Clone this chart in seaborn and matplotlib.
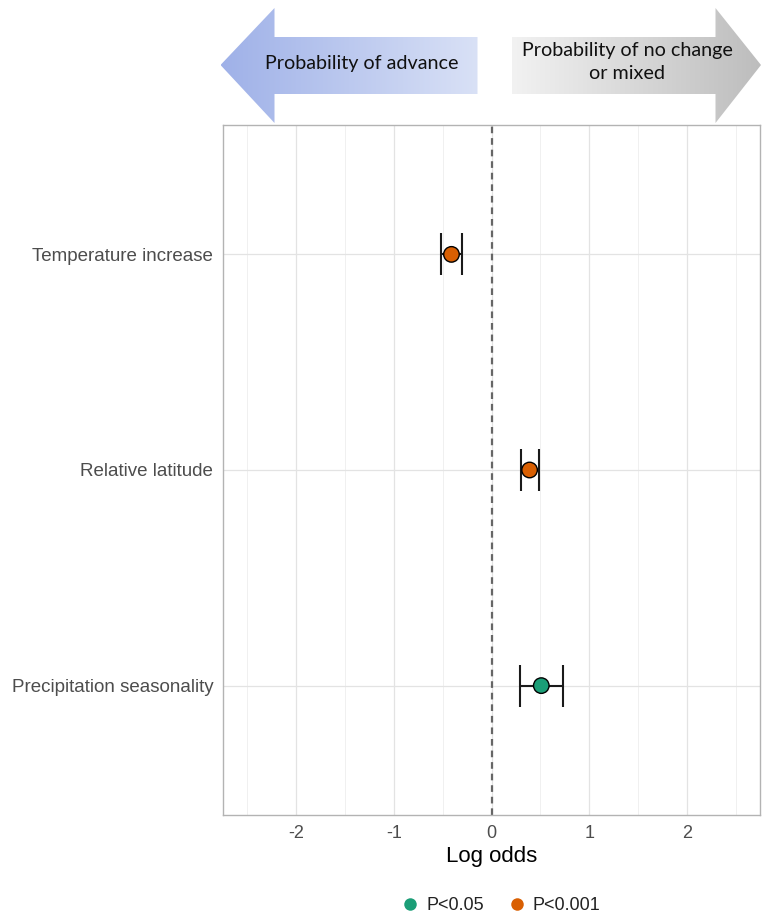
import numpy as np
import pandas as pd
import matplotlib
matplotlib.use("Agg")
import matplotlib.pyplot as plt
from matplotlib.patches import Polygon
from matplotlib.lines import Line2D
from matplotlib.colors import LinearSegmentedColormap
import seaborn as sns

# Model terms and their log-odds estimates with confidence limits
terms = ["Temperature increase", "Relative latitude", "Precipitation seasonality"]
estimate = [-0.41, 0.39, 0.51]
lower = [-0.52, 0.30, 0.29]
upper = [-0.30, 0.49, 0.73]
signif = ["P<0.001", "P<0.001", "P<0.05"]

sig_levels = ["P<0.05", "P<0.001"]
sig_colors = {"P<0.05": "#1B9E77", "P<0.001": "#D95F02"}
x_ticks = [-2, -1, 0, 1, 2]
x_minor = [-2.5, -1.5, -0.5, 0.5, 1.5, 2.5]

df = pd.DataFrame({"term": terms, "estimate": estimate,
                   "lower": lower, "upper": upper, "signif": signif})

sns.set_theme(style="white")
plt.rcParams["font.family"] = ["Liberation Sans", "DejaVu Sans"]

W, H = 762, 917
fig = plt.figure(figsize=(W / 100, H / 100), dpi=100)
ax = fig.add_axes([223 / W, 1 - 815 / H, (760 - 223) / W, (815 - 125) / H])

ypos = np.arange(len(terms))

# grid lines (major and minor) drawn beneath the marks
for xv in x_ticks:
    ax.axvline(xv, color="#e3e3e3", lw=0.9, zorder=0)
for xv in x_minor:
    ax.axvline(xv, color="#eeeeee", lw=0.6, zorder=0)
for yv in ypos:
    ax.axhline(yv, color="#e3e3e3", lw=0.9, zorder=0)

ax.axvline(0, color="#666666", lw=1.6, ls=(0, (3.0, 2.2)), zorder=1)

ax.errorbar(df["estimate"], ypos,
            xerr=[df["estimate"] - df["lower"], df["upper"] - df["estimate"]],
            fmt="none", ecolor="#1a1a1a", elinewidth=1.5, capsize=15,
            capthick=1.5, zorder=2)

sns.scatterplot(data=df, x="estimate", y="term", hue="signif",
                hue_order=sig_levels, palette=sig_colors, s=125,
                edgecolor="black", linewidth=1.0, legend=False, ax=ax, zorder=3)

ax.set_xlim(-2.75, 2.75)
ax.set_ylim(len(terms) - 1 + 0.6, -0.6)
ax.set_xticks(x_ticks)
ax.set_xticklabels([str(v) for v in x_ticks])
ax.set_yticks(ypos)
ax.set_yticklabels(terms)
ax.tick_params(axis="both", colors="#b3b3b3", length=4, width=0.8,
               labelcolor="#4d4d4d", labelsize=13.5, pad=3)
ax.tick_params(axis="x", labelsize=13)
ax.set_xlabel("Log odds", fontsize=16, color="black", labelpad=3)
ax.set_ylabel("")
for sp in ax.spines.values():
    sp.set_color("#b3b3b3")
    sp.set_linewidth(1.0)

# legend below the panel
handles = [Line2D([0], [0], marker="o", ls="none", markersize=9,
                  markerfacecolor=sig_colors[k], markeredgewidth=0, label=k)
           for k in sig_levels]
fig.legend(handles=handles, loc="center", bbox_to_anchor=(500 / W, 1 - 906 / H),
           ncol=2, frameon=False, fontsize=13, handletextpad=0.3,
           columnspacing=1.2, handlelength=1.2, labelcolor="#222222")

# direction arrows above the panel
hx = fig.add_axes([0, 1 - 130 / H, 1, 130 / H])
hx.set_xlim(0, W)
hx.set_ylim(130, 0)
hx.axis("off")

left_arrow = [(220.5, 65), (274.5, 8), (274.5, 37), (477.5, 37),
              (477.5, 94), (274.5, 94), (274.5, 123)]
right_arrow = [(512, 37), (715.5, 37), (715.5, 8), (761, 65),
               (715.5, 123), (715.5, 94), (512, 94)]

blue = LinearSegmentedColormap.from_list("bl", ["#9fb1e8", "#d9e1f6"])
grey = LinearSegmentedColormap.from_list("gr", ["#f2f2f2", "#bdbdbd"])
grad = np.linspace(0, 1, 256).reshape(1, -1)

for pts, cmap in ((left_arrow, blue), (right_arrow, grey)):
    poly = Polygon(pts, closed=True, facecolor="none", edgecolor="none")
    hx.add_patch(poly)
    xs = [p[0] for p in pts]
    im = hx.imshow(grad, cmap=cmap, aspect="auto",
                   extent=(min(xs), max(xs), 124, 7), zorder=1)
    im.set_clip_path(poly)

hx.text(362, 63, "Probability of advance", ha="center", va="center",
        fontsize=14.2, family=["Lato", "DejaVu Sans"], color="#111111")
hx.text(627, 62, "Probability of no change\nor mixed", ha="center", va="center",
        fontsize=14.2, family=["Lato", "DejaVu Sans"], color="#111111",
        linespacing=1.45)

fig.savefig("out.png", dpi=100)
